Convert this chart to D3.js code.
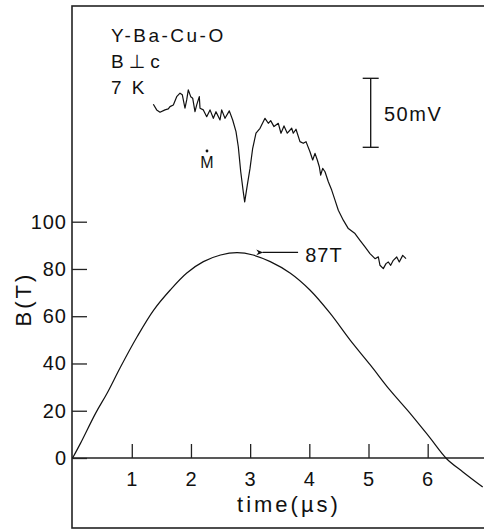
<!DOCTYPE html>
<html>
<head>
<meta charset="utf-8">
<script src="https://cdn.jsdelivr.net/npm/d3@7"></script>
<style>
  body { margin: 0; background: #fff; }
  text { font-family: "Liberation Sans", "DejaVu Sans", sans-serif; fill: #111; }
</style>
</head>
<body>
<div id="chart"></div>
<script>
// field pulse B(t)
var fieldTime = [0, 0.135, 0.39, 0.585, 0.81, 1.09, 1.37, 1.65, 1.93, 2.21, 2.50, 2.78, 3.05, 3.34, 3.68, 4.01, 4.35, 4.69, 5.03, 5.36, 5.70, 6.04, 6.32, 6.59, 6.93];
var fieldB = [0, 6.3, 19, 27.5, 38.5, 51.3, 62.6, 71.1, 78.3, 83.1, 85.9, 86.9, 85.9, 83.1, 78.2, 71.1, 61.3, 49.9, 39.4, 28.8, 19, 8.5, -0.3, -5.8, -12.3];

// pickup signal (mV, relative offset)
var sigTime = [1.364, 1.421, 1.477, 1.561, 1.617, 1.646, 1.702, 1.759, 1.815, 1.854, 1.899, 1.928, 1.955, 1.996, 2.029, 2.068, 2.097, 2.141, 2.153, 2.209, 2.266, 2.322, 2.378, 2.423, 2.491, 2.519, 2.575, 2.648, 2.705, 2.761, 2.800, 2.841, 2.884, 2.908, 2.952, 2.998, 3.043, 3.099, 3.167, 3.251, 3.307, 3.347, 3.403, 3.476, 3.521, 3.572, 3.628, 3.702, 3.729, 3.775, 3.842, 3.898, 3.944, 4.011, 4.057, 4.096, 4.135, 4.169, 4.192, 4.226, 4.265, 4.321, 4.378, 4.434, 4.490, 4.574, 4.659, 4.772, 4.856, 4.941, 5.025, 5.110, 5.166, 5.194, 5.250, 5.296, 5.335, 5.375, 5.419, 5.477, 5.520, 5.578, 5.634];
var sigMV = [31.2, 27.1, 25.4, 27.1, 27.8, 29.5, 30.7, 36.7, 39.2, 38.0, 28.3, 34.3, 41.6, 36.7, 35.6, 25.8, 30.7, 36.7, 28.3, 27.1, 22.2, 27.1, 21.0, 25.8, 19.8, 27.1, 21.0, 26.4, 19.8, 11.3, 0.4, -17.7, -32.3, -39.5, -27.4, -15.3, -0.7, 10.2, 13.8, 21.0, 17.4, 19.3, 15.0, 17.4, 10.2, 15.5, 10.2, 13.8, 10.2, 13.1, 4.1, 2.9, 4.1, -3.2, -9.2, -4.4, -9.2, -14.1, -20.1, -15.3, -17.7, -25.0, -31.0, -38.3, -45.6, -52.8, -58.9, -62.5, -67.4, -72.2, -77.0, -80.7, -79.4, -85.5, -87.9, -84.3, -83.1, -85.5, -81.9, -79.5, -83.1, -78.3, -80.7];

var xTicks = [1, 2, 3, 4, 5, 6];
var yTicks = [0, 20, 40, 60, 80, 100];
var textLines = ["Y-Ba-Cu-O", "B\u22A5c", "7 K"];
var peakLabel = "87T";
var peakValue = 87;
var scaleBarMV = 50;

var w = 484, h = 529;

var svg = d3.select('#chart')
    .append('svg')
    .attr('width', w)
    .attr('height', h);

var x = d3.scaleLinear().domain([0, 7]).range([72.6, 72.6 + 7 * 59.18]);
var y = d3.scaleLinear().domain([0, 100]).range([458, 221.7]);
// signal scale: 50 mV = 69 px
var ys = d3.scaleLinear().domain([0, 50]).range([147.3, 78.3]);

svg.append('defs').append('clipPath').attr('id', 'clip')
    .append('rect').attr('x', 72).attr('y', 6).attr('width', 420).attr('height', 522);

// frame
svg.append('rect')
    .attr('x', 72).attr('y', 6)
    .attr('width', 430).attr('height', 522)
    .attr('fill', 'none')
    .attr('stroke', '#222')
    .attr('stroke-width', 1.6);

// baseline B = 0
svg.append('line')
    .attr('x1', 72).attr('x2', w)
    .attr('y1', y(0)).attr('y2', y(0))
    .attr('stroke', '#222').attr('stroke-width', 1.3);

var xAxis = d3.axisBottom(x).tickValues(xTicks).tickSize(-14).tickPadding(14).tickFormat(d3.format('d'));
var gx = svg.append('g').attr('transform', 'translate(0,' + y(0) + ')').call(xAxis);
gx.select('.domain').remove();

var yAxis = d3.axisLeft(y).tickValues(yTicks).tickSize(-15).tickPadding(5);
var gy = svg.append('g').attr('transform', 'translate(72,0)').call(yAxis);
gy.select('.domain').remove();

[gx, gy].forEach(function(g) {
    g.selectAll('line').attr('stroke', '#222').attr('stroke-width', 1.3);
    g.selectAll('text').style('font-size', '20px').style('letter-spacing', '1px').attr('fill', '#111');
});

// field curve
var fieldData = fieldTime.map(function(t, i) { return [t, fieldB[i]]; });
svg.append('path')
    .datum(fieldData)
    .attr('clip-path', 'url(#clip)')
    .attr('d', d3.line().x(function(d) { return x(d[0]); }).y(function(d) { return y(d[1]); }).curve(d3.curveCatmullRom))
    .attr('fill', 'none')
    .attr('stroke', '#111')
    .attr('stroke-width', 1.2);

// signal trace
var sigData = sigTime.map(function(t, i) { return [t, sigMV[i]]; });
svg.append('path')
    .datum(sigData)
    .attr('d', d3.line().x(function(d) { return x(d[0]); }).y(function(d) { return ys(d[1]); }))
    .attr('fill', 'none')
    .attr('stroke', '#111')
    .attr('stroke-width', 1.2)
    .attr('stroke-linejoin', 'round');

// scale bar
var sbx = 370.7;
svg.append('line').attr('x1', sbx).attr('x2', sbx).attr('y1', ys(0)).attr('y2', ys(scaleBarMV))
    .attr('stroke', '#111').attr('stroke-width', 1.3);
[0, scaleBarMV].forEach(function(v) {
    svg.append('line').attr('x1', sbx - 8).attr('x2', sbx + 8).attr('y1', ys(v)).attr('y2', ys(v))
        .attr('stroke', '#111').attr('stroke-width', 1.3);
});
svg.append('text').attr('x', 384).attr('y', 121)
    .style('font-size', '20px').style('letter-spacing', '1.5px').text('50mV');

// sample labels
textLines.forEach(function(s, i) {
    svg.append('text').attr('x', 111).attr('y', [42, 68, 94][i])
        .style('font-size', '19px').style('letter-spacing', i == 1 ? '5px' : '2.5px')
        .text(s);
});

// M-dot
svg.append('text').attr('x', 207).attr('y', 168).attr('text-anchor', 'middle')
    .style('font-size', '16px').text('M');
svg.append('circle').attr('cx', 207).attr('cy', 151).attr('r', 1.4).attr('fill', '#111');

// 87 T arrow
svg.append('defs').append('marker').attr('id', 'arr')
    .attr('viewBox', '0 0 10 10').attr('refX', 1).attr('refY', 5)
    .attr('markerWidth', 10).attr('markerHeight', 7).attr('orient', 'auto-start-reverse')
    .attr('markerUnits', 'userSpaceOnUse')
    .append('path').attr('d', 'M10,1 L0,5 L10,9 L7,5 Z').attr('fill', '#111');
svg.append('line')
    .attr('x1', x(3.81)).attr('x2', x(3.21))
    .attr('y1', y(peakValue)).attr('y2', y(peakValue))
    .attr('stroke', '#111').attr('stroke-width', 1.1)
    .attr('marker-end', 'url(#arr)');
svg.append('text').attr('x', x(3.93)).attr('y', y(peakValue) + 10)
    .style('font-size', '20px').style('letter-spacing', '1px').text(peakLabel);

// axis titles
svg.append('text')
    .attr('transform', 'translate(31,' + 299 + ') rotate(-90)')
    .attr('text-anchor', 'middle')
    .style('font-size', '22px').style('letter-spacing', '3px')
    .text('B(T)');
svg.append('text').attr('x', 289).attr('y', 512).attr('text-anchor', 'middle')
    .style('font-size', '22px').style('letter-spacing', '3px')
    .text('time(\u00B5s)');
</script>
</body>
</html>
